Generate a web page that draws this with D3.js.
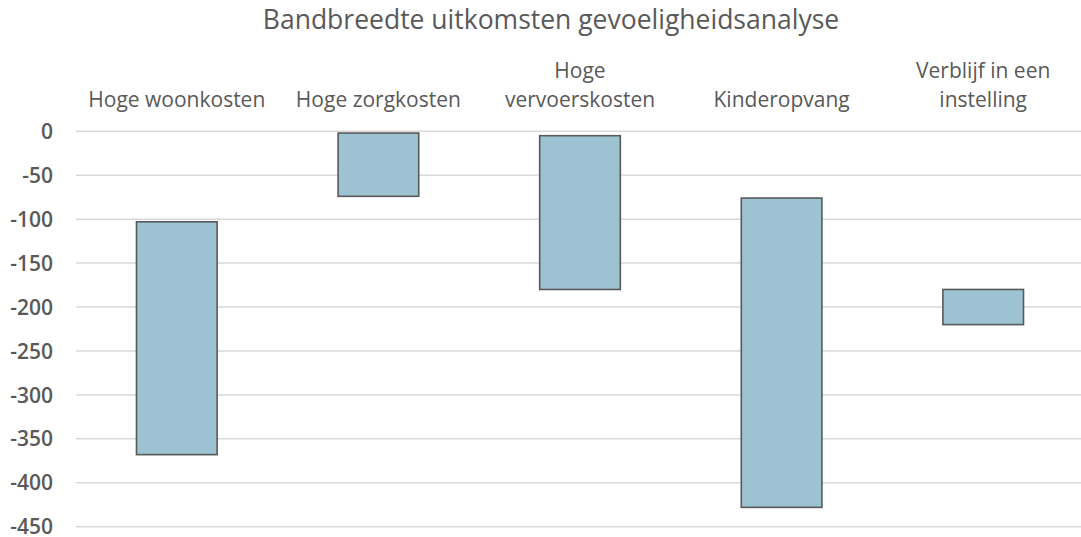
<!DOCTYPE html>
<html>
<head>
<meta charset="utf-8">
<script src="https://cdn.jsdelivr.net/npm/d3@7"></script>
<style>
  html, body { margin: 0; padding: 0; background: #fff; }
  svg { display: block; font-family: "Open Sans", sans-serif; }
</style>
</head>
<body>
<svg id="chart" width="1081" height="537"></svg>
<script>
const title = "Bandbreedte uitkomsten gevoeligheidsanalyse";
const categories = [
  ["Hoge woonkosten"],
  ["Hoge zorgkosten"],
  ["Hoge", "vervoerskosten"],
  ["Kinderopvang"],
  ["Verblijf in een", "instelling"]
];
const upperValues = [-103, -2, -5, -76, -180];
const lowerValues = [-368, -74, -180, -428, -220];
const yTicks = [0, -50, -100, -150, -200, -250, -300, -350, -400, -450];

(function () {
const svg = d3.select("#chart");
const W = 1081;
const plotL = 76, plotR = 1084, plotT = 131.3, plotB = 526.7;

const keys = categories.map((c, i) => i);
const x = d3.scaleBand().domain(keys).range([plotL, plotR]).paddingInner(0.6).paddingOuter(0.3);
const y = d3.scaleLinear().domain([-450, 0]).range([plotB, plotT]);

// gridlines
svg.append("g")
  .selectAll("line")
  .data(yTicks)
  .join("line")
  .attr("x1", plotL)
  .attr("x2", W)
  .attr("y1", d => y(d))
  .attr("y2", d => y(d))
  .attr("stroke", "#d9d9d9")
  .attr("stroke-width", 1.5);

// y axis labels
const yAxis = d3.axisLeft(y).tickValues(yTicks).tickSize(0).tickPadding(0).tickFormat(d => String(d));
const yg = svg.append("g").attr("transform", "translate(53,0)").call(yAxis);
yg.select(".domain").remove();
yg.selectAll("text")
  .attr("fill", "#595959")
  .attr("dy", "0.34em")
  .style("font-size", "21px")
  .style("font-weight", 600)
  .style("font-family", "'Open Sans', sans-serif");

// bars
svg.append("g")
  .selectAll("rect")
  .data(keys)
  .join("rect")
  .attr("x", i => x(i))
  .attr("width", x.bandwidth())
  .attr("y", i => y(upperValues[i]))
  .attr("height", i => y(lowerValues[i]) - y(upperValues[i]))
  .attr("fill", "#9dc3d2")
  .attr("stroke", "#595959")
  .attr("stroke-width", 1.6);

// category labels
const lineH = 29;
const baseY = 106.7;
const lab = svg.append("g")
  .selectAll("text")
  .data(keys)
  .join("text")
  .attr("text-anchor", "middle")
  .attr("fill", "#595959")
  .style("font-size", "21px")
  .attr("x", i => x(i) + x.bandwidth() / 2)
  .attr("y", i => baseY - (categories[i].length - 1) * lineH);
lab.each(function (i) {
  const t = d3.select(this);
  categories[i].forEach((line, k) => {
    t.append("tspan")
      .attr("x", x(i) + x.bandwidth() / 2)
      .attr("dy", k === 0 ? 0 : lineH)
      .text(line);
  });
});

// title
svg.append("text")
  .attr("x", 551)
  .attr("y", 28.5)
  .attr("text-anchor", "middle")
  .attr("fill", "#595959")
  .style("font-size", "26.5px")
  .text(title);
})();
</script>
</body>
</html>
